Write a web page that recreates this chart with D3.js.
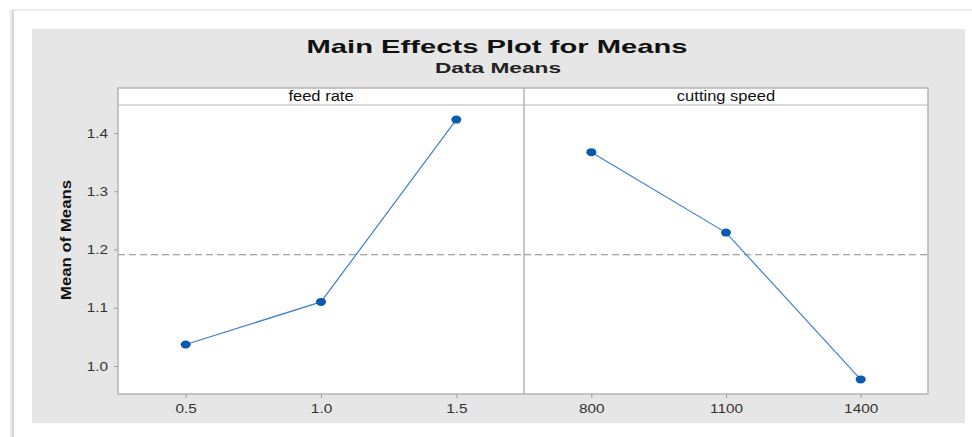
<!DOCTYPE html>
<html>
<head>
<meta charset="utf-8">
<script src="https://cdn.jsdelivr.net/npm/d3@7"></script>
<style>
  html, body { margin: 0; padding: 0; background: #ffffff; }
  svg { display: block; }
  text { font-family: "Liberation Sans", Arial, sans-serif; }
</style>
</head>
<body>
<svg id="chart" width="972" height="437"></svg>
<script>
// ---- data ----
const title = "Main Effects Plot for Means";
const subtitle = "Data Means";
const yLabel = "Mean of Means";
const factors = ["feed rate", "cutting speed"];
const feedLevels = ["0.5", "1.0", "1.5"];
const feedMeans = [1.037, 1.110, 1.423];
const speedLevels = ["800", "1100", "1400"];
const speedMeans = [1.367, 1.229, 0.977];
const grandMean = 1.191;
const yTicks = [1.0, 1.1, 1.2, 1.3, 1.4];

// ---- layout ----
const svg = d3.select("#chart");
const W = 972, H = 437;
const stretch = 1.18; // horizontal stretch of text seen in the reference

// page frame
svg.append("rect").attr("x", 0).attr("y", 0).attr("width", W).attr("height", H).attr("fill", "#ffffff");
svg.append("line").attr("x1", 13).attr("x2", W).attr("y1", 10).attr("y2", 10)
  .attr("stroke", "#ececec").attr("stroke-width", 2);
svg.append("line").attr("x1", 11).attr("x2", 11).attr("y1", 10).attr("y2", H)
  .attr("stroke", "#eeeeee").attr("stroke-width", 3);
svg.append("line").attr("x1", 13).attr("x2", 13).attr("y1", 10).attr("y2", H)
  .attr("stroke", "#c8c8c8").attr("stroke-width", 1.5);

// gray background
svg.append("rect").attr("x", 32).attr("y", 29).attr("width", 933).attr("height", 394).attr("fill", "#e6e6e6");

const plotLeft = 118, plotRight = 928, divider = 524;
const stripTop = 88, plotTop = 105, plotBottom = 394;

const y = d3.scaleLinear().domain([0.952, 1.448]).range([plotBottom, plotTop]);

const panels = [
  { name: factors[0], levels: feedLevels, means: feedMeans, x0: plotLeft, x1: divider },
  { name: factors[1], levels: speedLevels, means: speedMeans, x0: divider, x1: plotRight }
];

function stretchText(sel) {
  sel.each(function () {
    const len = this.getComputedTextLength();
    d3.select(this).attr("textLength", len * stretch).attr("lengthAdjust", "spacingAndGlyphs");
  });
}

// white plot area
svg.append("rect").attr("x", plotLeft).attr("y", stripTop)
  .attr("width", plotRight - plotLeft).attr("height", plotBottom - stripTop).attr("fill", "#ffffff");

// title
svg.append("text").attr("x", 497).attr("y", 53).attr("text-anchor", "middle")
  .attr("font-size", 19).attr("font-weight", "bold").attr("fill", "#111")
  .attr("textLength", 381).attr("lengthAdjust", "spacingAndGlyphs").text(title);
svg.append("text").attr("x", 498).attr("y", 73).attr("text-anchor", "middle")
  .attr("font-size", 15).attr("font-weight", "bold").attr("fill", "#222")
  .attr("textLength", 126).attr("lengthAdjust", "spacingAndGlyphs").text(subtitle);

// y axis label
svg.append("text").attr("transform", "translate(71,240) rotate(-90)")
  .attr("text-anchor", "middle").attr("font-size", 15).attr("font-weight", "bold")
  .attr("fill", "#111").attr("textLength", 120).attr("lengthAdjust", "spacingAndGlyphs")
  .text(yLabel);

// y axis
const yAxis = d3.axisLeft(y).tickValues(yTicks).tickFormat(d3.format(".1f")).tickSize(4).tickPadding(6);
const gy = svg.append("g").attr("transform", `translate(${plotLeft},0)`).call(yAxis);
gy.select(".domain").remove();
gy.selectAll(".tick line").attr("stroke", "#999");
gy.selectAll(".tick text").attr("font-size", 13).attr("fill", "#333")
  .attr("font-family", "Liberation Sans, Arial, sans-serif").call(stretchText);

panels.forEach(p => {
  const x = d3.scalePoint().domain(p.levels).range([p.x0, p.x1]).padding(0.5);

  // grand mean dashed line
  svg.append("line").attr("x1", p.x0).attr("x2", p.x1)
    .attr("y1", y(grandMean)).attr("y2", y(grandMean))
    .attr("stroke", "#8a8a8a").attr("stroke-width", 1).attr("stroke-dasharray", "7,4");

  // strip label
  svg.append("text").attr("x", (p.x0 + p.x1) / 2).attr("y", 101).attr("text-anchor", "middle")
    .attr("font-size", 14).attr("fill", "#111").text(p.name).call(stretchText);

  // x axis
  const xAxis = d3.axisBottom(x).tickSize(4).tickPadding(6);
  const gx = svg.append("g").attr("transform", `translate(0,${plotBottom})`).call(xAxis);
  gx.select(".domain").remove();
  gx.selectAll(".tick line").attr("stroke", "#999");
  gx.selectAll(".tick text").attr("font-size", 13).attr("fill", "#333")
    .attr("font-family", "Liberation Sans, Arial, sans-serif").call(stretchText);

  // line
  const pts = p.levels.map((l, i) => [x(l), y(p.means[i])]);
  svg.append("path").attr("d", d3.line()(pts)).attr("fill", "none")
    .attr("stroke", "#3f7fcc").attr("stroke-width", 1.2);

  // points
  svg.selectAll(null).data(pts).enter().append("ellipse")
    .attr("cx", d => d[0]).attr("cy", d => d[1]).attr("rx", 5).attr("ry", 4)
    .attr("fill", "#0a5aae");
});

// borders
svg.append("rect").attr("x", plotLeft).attr("y", stripTop)
  .attr("width", plotRight - plotLeft).attr("height", plotBottom - stripTop)
  .attr("fill", "none").attr("stroke", "#b5b5b5").attr("stroke-width", 1.5);
svg.append("line").attr("x1", plotLeft).attr("x2", plotRight).attr("y1", plotTop).attr("y2", plotTop)
  .attr("stroke", "#b5b5b5").attr("stroke-width", 1.2);
svg.append("line").attr("x1", divider).attr("x2", divider).attr("y1", stripTop).attr("y2", plotBottom)
  .attr("stroke", "#b5b5b5").attr("stroke-width", 1.5);
</script>
</body>
</html>
